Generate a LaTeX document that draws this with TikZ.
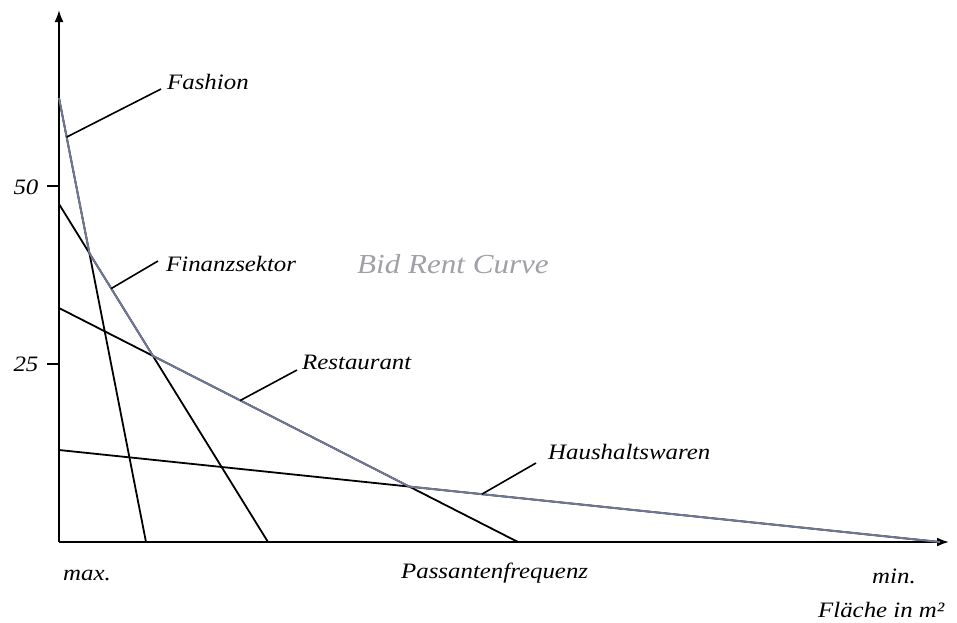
\documentclass[tikz,border=0pt]{standalone}
\usepackage{fontspec}
\setmainfont{Liberation Serif}
\newfontfamily\labfont[FakeStretch=1.13]{Liberation Serif}
\usetikzlibrary{calc,arrows.meta}
\definecolor{bidrent}{RGB}{112,118,150}
\definecolor{titlegray}{RGB}{160,160,166}
\begin{document}
\begin{tikzpicture}[x=1pt,y=-1pt,
  axis/.style={line width=1.9pt,-{Latex[length=12pt,width=9pt]}},
  sector/.style={line width=1.8pt,black},
  envelope/.style={line width=1.9pt,bidrent,line join=round},
  leader/.style={line width=1.6pt},
  lab/.style={font=\labfont\itshape\fontsize{22}{25}\selectfont,inner sep=0pt,anchor=west},
  ticklab/.style={font=\labfont\itshape\fontsize{22}{25}\selectfont,inner sep=0pt}]
\useasboundingbox (0,0) rectangle (957,622);

% axes
\coordinate (O) at (59,542);
\coordinate (ytop) at (59,10);
\coordinate (xend) at (949,542);
\draw[axis] (O) -- (ytop);
\draw[axis] (O) -- (xend);

% ticks on the rent axis
\coordinate (t50) at (59,186);
\coordinate (t25) at (59,364);
\draw[line width=1.7pt] (t50) -- ++(-12,0);
\draw[line width=1.7pt] (t25) -- ++(-12,0);
\node[ticklab] (l50) at (26,187) {50};
\node[ticklab] (l25) at (26,364) {25};

% bid-rent lines of the four sectors
\coordinate (fa1) at (59,98);   \coordinate (fa2) at (146,542);
\coordinate (fi1) at (59,204);  \coordinate (fi2) at (268,542);
\coordinate (re1) at (59,308);  \coordinate (re2) at (518,542);
\coordinate (ha1) at (59,450);  \coordinate (ha2) at (940,542);
\draw[sector] (fa1) -- (fa2);
\draw[sector] (fi1) -- (fi2);
\draw[sector] (re1) -- (re2);
\draw[sector] (ha1) -- (ha2);

% upper envelope = bid rent curve
\coordinate (k1) at (intersection of fa1--fa2 and fi1--fi2);
\coordinate (k2) at (intersection of fi1--fi2 and re1--re2);
\coordinate (k3) at (intersection of re1--re2 and ha1--ha2);
\draw[envelope] (fa1) -- (k1) -- (k2) -- (k3) -- (ha2);

% sector labels with leader lines
\node[lab] (nfa) at (167,82) {Fashion};
\node[lab] (nfi) at (166,264) {Finanzsektor};
\node[lab] (nre) at (302,362) {Restaurant};
\node[lab] (nha) at (548,452) {Haushaltswaren};
\coordinate (pfa) at ($(fa1)!0.088!(fa2)$);
\coordinate (pfi) at ($(fi1)!0.25!(fi2)$);
\coordinate (pre) at ($(re1)!0.395!(re2)$);
\coordinate (pha) at ($(ha1)!0.48!(ha2)$);
\draw[leader] (pfa) -- ($(nfa.west)+(-6,7)$);
\draw[leader] (pfi) -- ($(nfi.west)+(-8,-3)$);
\draw[leader] (pre) -- ($(nre.west)+(-5,8)$);
\draw[leader] (pha) -- ($(nha.west)+(-12,11)$);

% title
\node[lab,text=titlegray,font=\labfont\itshape\fontsize{27.5}{31}\selectfont] (title) at (357,264) {Bid Rent Curve};

% axis captions
\node[lab] (nmax) at (63,575) {max.};
\node[lab] (npass) at (401,573) {Passantenfrequenz};
\node[lab] (nmin) at (872,576) {min.};
\node[lab] (nfl) at (818,610) {Fläche in m²};
\end{tikzpicture}
\end{document}
